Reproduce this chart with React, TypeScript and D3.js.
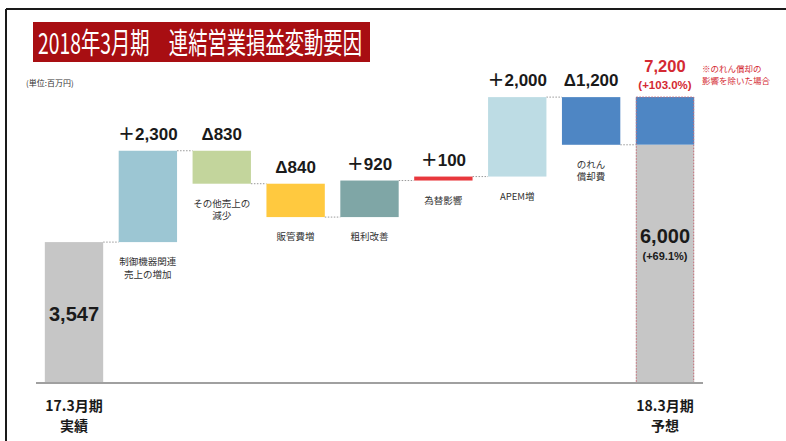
import React from "react";
import * as d3 from "d3";

// ---- data ----
const startLabel = ["17.3月期", "実績"];
const endLabel = ["18.3月期", "予想"];
const startValue = 3547;
const endValue = 6000;
const endAdjusted = 7200;
const stepNames = ["制御機器関連\n売上の増加", "その他売上の\n減少", "販管費増", "粗利改善", "為替影響", "APEM増", "のれん\n償却費"];
const stepDeltas = [2300, -830, -840, 920, 100, 2000, -1200];
const stepLabels = ["＋2,300", "Δ830", "Δ840", "＋920", "＋100", "＋2,000", "Δ1,200"];
const startText = "3,547";
const endText = "6,000";
const endPct = "(+69.1%)";
const adjText = "7,200";
const adjPct = "(+103.0%)";
const noteLines = ["※のれん償却の", "影響を除いた場合"];
const title = "2018年3月期　連結営業損益変動要因";
const unit = "(単位:百万円)";

// ---- styles ----
const stepColors = ["#9CC6D3", "#C3D59C", "#FFC93F", "#7FA6A6", "#E8383D", "#BDDCE4", "#4E86C4"];
const grayColor = "#C6C6C6";
const adjColor = "#4E86C4";
const redText = "#D42A33";
const NUM = "'Liberation Sans', Arial, 'Noto Sans CJK JP', sans-serif";
const JP = "'Noto Sans CJK JP', 'Liberation Sans', sans-serif";

export default function App() {
  const W = 786, H = 441;
  const ids = ["start", ...stepNames.map((_, i) => "s" + i), "end"];
  const x = d3.scaleBand<string>().domain(ids).range([37.06, 701.94]).paddingInner(0.21).paddingOuter(0.105);
  const y = d3.scaleLinear().domain([0, 7200]).range([383, 97]);
  const bw = x.bandwidth();

  // running totals
  const totals: number[] = [];
  let acc = startValue;
  const steps = stepDeltas.map((d, i) => {
    const from = acc;
    acc += d;
    totals.push(acc);
    return { id: "s" + i, from, to: acc, d, name: stepNames[i], label: stepLabels[i], color: stepColors[i] };
  });

  const levels = [startValue, ...totals];

  return (
    <svg width={W} height={H} style={{ position: "absolute", left: 0, top: 0, background: "#fff" }}>
      {/* frame */}
      <line x1={6} y1={9} x2={W} y2={9} stroke="#1a1a1a" strokeWidth={2} />
      <line x1={6} y1={9} x2={6} y2={H} stroke="#1a1a1a" strokeWidth={2} />

      {/* title */}
      <rect x={33} y={22} width={337} height={40} fill="#A80E12" />
      <text x={38} y={54} fill="#fff" fontFamily={JP} fontSize={29} textLength={324} lengthAdjust="spacingAndGlyphs">{title}</text>
      <text x={26} y={86} fill="#333" fontFamily={JP} fontSize={8}>{unit}</text>

      {/* connectors */}
      {levels.map((v, i) => {
        const x1 = x(ids[i])! + bw;
        const x2 = x(ids[i + 1])!;
        return <line key={"c" + i} x1={x1} x2={x2} y1={y(v)} y2={y(v)} stroke="#999" strokeWidth={1} strokeDasharray="1.5,1.5" />;
      })}

      {/* start bar */}
      <rect x={x("start")} y={y(startValue)} width={bw} height={y(0) - y(startValue)} fill={grayColor} />
      <text x={x("start")! + bw / 2} y={321} textAnchor="middle" fontFamily={NUM} fontWeight="bold" fontSize={20} fill="#1a1a1a">{startText}</text>

      {/* steps */}
      {steps.map((s) => {
        const top = y(Math.max(s.from, s.to));
        const bot = y(Math.min(s.from, s.to));
        const cx = x(s.id)! + bw / 2;
        const lines = s.name.split("\n");
        return (
          <g key={s.id}>
            <rect x={x(s.id)} y={top} width={bw} height={bot - top} fill={s.color} />
            <text x={cx} y={top - 11} textAnchor="middle" fontFamily={NUM} fontWeight="bold" fontSize={17} fill="#1a1a1a">{s.label}</text>
            {lines.map((l, j) => (
              <text key={j} x={cx} y={bot + 23 + j * 12.5} textAnchor="middle" fontFamily={JP} fontSize={9.5} fill="#333">{l}</text>
            ))}
          </g>
        );
      })}

      {/* end bar */}
      <rect x={x("end")} y={y(endValue)} width={bw} height={y(0) - y(endValue)} fill={grayColor} />
      <rect x={x("end")} y={y(endAdjusted)} width={bw} height={y(endValue) - y(endAdjusted)} fill={adjColor} />
      <rect x={x("end")! + 0.5} y={y(endAdjusted)} width={bw - 1} height={y(0) - y(endAdjusted)} fill="none" stroke="#C8707A" strokeWidth={1} strokeDasharray="1.5,1.5" />
      <text x={x("end")! + bw / 2} y={243} textAnchor="middle" fontFamily={NUM} fontWeight="bold" fontSize={20} fill="#1a1a1a">{endText}</text>
      <text x={x("end")! + bw / 2} y={260} textAnchor="middle" fontFamily={NUM} fontWeight="bold" fontSize={11} fill="#1a1a1a">{endPct}</text>

      {/* adjusted labels */}
      <text x={x("end")! + bw / 2} y={72} textAnchor="middle" fontFamily={NUM} fontWeight="bold" fontSize={16.5} fill={redText}>{adjText}</text>
      <text x={x("end")! + bw / 2} y={89} textAnchor="middle" fontFamily={NUM} fontWeight="bold" fontSize={11.5} fill={redText}>{adjPct}</text>
      {noteLines.map((l, i) => (
        <text key={i} x={702} y={72 + i * 12} fontFamily={JP} fontSize={8.5} fill={redText}>{l}</text>
      ))}

      {/* baseline */}
      <line x1={36} x2={703} y1={y(0)} y2={y(0)} stroke="#A0A0A0" strokeWidth={2} />

      {/* bottom labels */}
      {[{ id: "start", l: startLabel }, { id: "end", l: endLabel }].map((o) => (
        <g key={o.id}>
          {o.l.map((t, j) => (
            <text key={j} x={x(o.id)! + bw / 2} y={411 + j * 20} textAnchor="middle" fontFamily={JP} fontWeight="bold" fontSize={14} fill="#1a1a1a">{t}</text>
          ))}
        </g>
      ))}
    </svg>
  );
}
